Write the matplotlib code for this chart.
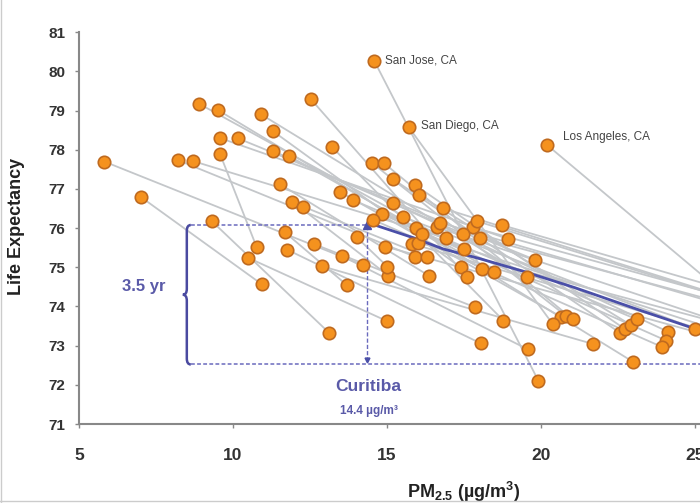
import matplotlib
matplotlib.use("Agg")
import matplotlib.pyplot as plt
from matplotlib.path import Path
from matplotlib.patches import PathPatch
from matplotlib.lines import Line2D

plt.rcParams['font.family'] = ['Liberation Sans', 'DejaVu Sans']
plt.rcParams['mathtext.fontset'] = 'custom'
plt.rcParams['mathtext.rm'] = 'Liberation Sans:bold'
plt.rcParams['mathtext.bf'] = 'Liberation Sans:bold'
plt.rcParams['mathtext.default'] = 'bf'

# ---- data: each city, later period (pm_new, le_new) -> earlier period (pm_old, le_old)
pm_new = [5.82, 7.00, 8.91, 9.50, 8.20, 8.71, 9.58, 10.17, 9.58, 10.90,
          11.29, 11.29, 11.82, 12.52, 13.20, 11.53, 11.93, 12.28, 13.47, 9.31,
          11.69, 12.64, 11.76, 10.50, 12.88, 13.53, 14.52, 14.90, 15.20, 15.91,
          16.05, 13.88, 15.18, 14.83, 14.56, 15.51, 15.94, 14.01, 14.58, 15.71,
          20.20, 14.94, 15.82, 16.02, 16.13, 16.63, 16.72, 17.78, 17.91, 18.72,
          16.81, 18.02]
le_new = [77.70, 76.80, 79.17, 79.02, 77.74, 77.71, 78.30, 78.29, 77.89, 78.91,
          78.48, 77.97, 77.84, 79.30, 78.08, 77.12, 76.68, 76.55, 76.93, 76.18,
          75.89, 75.59, 75.45, 75.24, 75.03, 75.29, 77.66, 77.66, 77.25, 77.10,
          76.84, 76.72, 76.64, 76.36, 76.21, 76.29, 76.00, 75.77, 80.28, 78.57,
          78.12, 75.53, 75.60, 75.63, 75.84, 76.02, 76.14, 76.02, 76.18, 76.08,
          76.51, 75.76]
pm_old = [14.21, 10.93, 17.50, 18.07, 15.91, 16.92, 18.94, 19.81, 10.77, 19.54,
          17.39, 17.48, 18.48, 17.59, 18.78, 16.37, 15.04, 16.29, 20.64, 13.13,
          13.69, 17.86, 18.04, 14.99, 21.70, 19.56, 20.81, 21.03, 22.56, 22.73,
          22.91, 23.11, 24.11, 24.06, 23.92, 25.00, 22.98, 15.01, 19.91, 20.38,
          27.50, 28.50, 27.00, 29.50, 26.50, 30.00, 27.80, 28.00, 31.00, 27.00,
          29.00, 26.80]
le_old = [75.06, 74.57, 75.46, 74.96, 75.27, 75.74, 75.72, 75.19, 75.51, 74.75,
          75.00, 75.85, 74.89, 74.76, 73.64, 74.78, 74.79, 75.27, 73.74, 73.32,
          74.55, 73.98, 73.06, 73.63, 73.04, 72.91, 73.76, 73.67, 73.33, 73.42,
          73.53, 73.67, 73.36, 73.13, 72.97, 73.43, 72.59, 75.02, 72.11, 73.55,
          73.30, 72.60, 73.00, 72.80, 73.20, 72.50, 73.60, 73.80, 73.00, 74.20,
          73.50, 73.90]

city_names = ["San Jose, CA", "San Diego, CA", "Los Angeles, CA"]
city_pm = [14.58, 15.71, 20.20]
city_le = [80.28, 78.57, 78.12]

# fitted curve (blue)
curve_pm = [14.45, 15.87, 16.82, 18.02, 19.50, 21.10, 23.30, 25.00]
curve_le = [76.12, 75.75, 75.47, 75.22, 74.88, 74.48, 73.88, 73.43]

# Curitiba reference
curitiba_pm = 14.35
gap_top = 76.08
gap_bottom = 72.52
brace_pm = 8.5
gap_label = "3.5 yr"

x_ticks = [5, 10, 15, 20, 25]
y_ticks = [71, 72, 73, 74, 75, 76, 77, 78, 79, 80, 81]

# ---- figure
fig = plt.figure(figsize=(7.0, 5.03), dpi=100)
ax = fig.add_axes([79/700, 1 - 424/503, 1 - 79/700, (424 - 32.3)/503])
ax.set_xlim(5, 25.16)
ax.set_ylim(71, 81)

gray = '#c4c7ca'
for x0, y0, x1, y1 in zip(pm_new, le_new, pm_old, le_old):
    ax.plot([x0, x1], [y0, y1], color=gray, lw=1.3, zorder=1, solid_capstyle='round')

# Curitiba annotation lines
blue_ann = '#6a6abd'
ax.plot([brace_pm + 0.15, 25.5], [gap_bottom, gap_bottom], color=blue_ann,
        lw=1.1, ls=(0, (2.5, 1.5)), zorder=2)
ax.plot([brace_pm + 0.15, curitiba_pm], [gap_top, gap_top], color=blue_ann,
        lw=1.1, ls=(0, (2.5, 1.5)), zorder=2)
ax.plot([curitiba_pm, curitiba_pm], [gap_bottom + 0.1, gap_top], color=blue_ann,
        lw=1.0, ls=(0, (3, 1.5)), zorder=2)
ax.plot([curitiba_pm], [gap_top], marker='^', ms=6, color='#4a4fa8', zorder=4)
ax.plot([curitiba_pm], [gap_bottom + 0.12], marker='v', ms=3.5, color='#4a4fa8', zorder=4)

# brace
mid = (gap_top + gap_bottom) / 2
bw = 0.13
verts = [(brace_pm + bw, gap_top), (brace_pm, gap_top), (brace_pm, gap_top - 0.15),
         (brace_pm, mid + 0.15),
         (brace_pm, mid), (brace_pm - bw, mid),
         (brace_pm, mid), (brace_pm, mid - 0.15),
         (brace_pm, gap_bottom + 0.15),
         (brace_pm, gap_bottom), (brace_pm + bw, gap_bottom)]
codes = [Path.MOVETO, Path.CURVE3, Path.CURVE3, Path.LINETO,
         Path.CURVE3, Path.CURVE3, Path.CURVE3, Path.CURVE3,
         Path.LINETO, Path.CURVE3, Path.CURVE3]
ax.add_patch(PathPatch(Path(verts, codes), fill=False, edgecolor='#4a4aa0', lw=1.8, zorder=3))

ax.text(7.1, 74.5, gap_label, color='#5a5aa8', fontsize=12, fontweight='bold',
        ha='center', va='center')
ax.text(14.4, 71.95, "Curitiba", color='#5a5aa8', fontsize=12.5, fontweight='bold',
        ha='center', va='center', clip_on=False)
ax.text(14.4, 71.32, "14.4 µg/m³", color='#5a5aa8', fontsize=8.5, fontweight='bold',
        ha='center', va='center', clip_on=False)

# blue curve
ax.plot(curve_pm, curve_le, color='#4a4fa8', lw=2.0, zorder=2.5)

# points
ax.scatter(pm_new + pm_old, le_new + le_old, s=80, facecolor='#f5921e',
           edgecolor='#bf6a1f', linewidth=1.2, zorder=5)

# city labels
offsets = [(8, 0), (9, 1), (11.5, 5.5)]
for name, x, y, off in zip(city_names, city_pm, city_le, offsets):
    ax.annotate(name, (x, y), xytext=off, textcoords='offset points',
                fontsize=8.5, color='#444444', ha='left', va='center')

# axes styling
for s in ['top', 'right']:
    ax.spines[s].set_visible(False)
for s in ['left', 'bottom']:
    ax.spines[s].set_color('#888888')
    ax.spines[s].set_linewidth(1.5)
ax.set_xticks(x_ticks)
ax.set_yticks(y_ticks)
ax.set_xticklabels([str(t) for t in x_ticks])
ax.set_yticklabels([str(t) for t in y_ticks])
ax.tick_params(axis='y', length=3, width=1, color='#888888', pad=7,
               labelsize=11, labelcolor='#333333')
ax.tick_params(axis='x', length=3, width=1, color='#888888', pad=14,
               labelsize=12.5, labelcolor='#333333')
for lab in ax.get_xticklabels() + ax.get_yticklabels():
    lab.set_fontweight('bold')

ax.set_ylabel("Life Expectancy", fontsize=13, fontweight='bold', color='#222222')
ax.yaxis.set_label_coords(-0.087, 0.505)
ax.set_xlabel("PM$_{2.5}$ (µg/m$^3$)", fontsize=13, fontweight='bold', color='#222222')
ax.xaxis.set_label_coords(0.62, -0.143)

# thin frame lines of the original picture
fig.add_artist(Line2D([0.002, 0.002], [0, 1], transform=fig.transFigure, color='#cccccc', lw=1))
fig.add_artist(Line2D([0, 1], [0.004, 0.004], transform=fig.transFigure, color='#cccccc', lw=1))

fig.savefig("out.png", dpi=100)
